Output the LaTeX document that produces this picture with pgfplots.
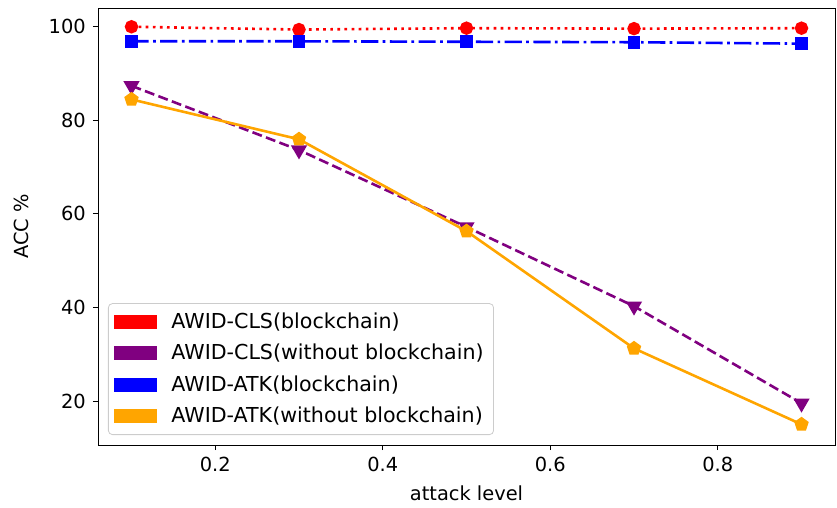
\documentclass[border=0pt]{standalone}
\usepackage{fontspec}
\setmainfont{DejaVu Sans}
\usepackage{pgfplots}
\pgfplotsset{compat=1.18}
\definecolor{mplorange}{rgb}{1,0.647,0}
\definecolor{mplpurple}{rgb}{0.5,0,0.5}
\begin{document}
\fontsize{10}{12}\selectfont
\begin{tikzpicture}
\begin{axis}[
  name=ax,
  scale only axis,
  width=368.5pt, height=218.5pt,
  xmin=0.06, xmax=0.94,
  ymin=10.7, ymax=103.9,
  xtick={0.2,0.4,0.6,0.8},
  ytick={20,40,60,80,100},
  xticklabels={0.2,0.4,0.6,0.8},
  tick align=outside,
  major tick length=2.6pt,
  xtick pos=bottom, ytick pos=left,
  tick style={black, line width=0.45pt},
  axis line style={line width=0.45pt},
  /pgf/number format/assume math mode=true,
  ticklabel style={font=\fontsize{9.7}{11}\selectfont},
  xlabel={attack level},
  ylabel={ACC \%},
  label style={font=\fontsize{9.7}{11}\selectfont},
  xlabel style={yshift=0pt},
  ylabel style={yshift=3pt},
  legend image code/.code={\fill[#1, draw=none, fill opacity=1, sharp corners] (0pt,-3.5pt) rectangle (21.5pt,3.5pt);},
  legend style={
    at={(0,0)}, xshift=5pt, yshift=5pt, anchor=south west,
    draw=black!20, rounded corners=2pt, fill=white, fill opacity=0.8, text opacity=1,
    font=\fontsize{10.3}{12}\selectfont,
    inner xsep=3pt, inner ysep=2.5pt,
    row sep=2.4pt,
    nodes={inner ysep=2pt},
    /tikz/every odd column/.append style={column sep=5pt},
  },
  legend cell align=left,
]
\addplot[color=red, line width=1.3pt, dash pattern=on 1.35pt off 2.2pt, mark=*, mark size=2.7pt, mark options={solid}]
  coordinates {(0.1,99.9) (0.3,99.3) (0.5,99.6) (0.7,99.5) (0.9,99.6)};
\addlegendentry{AWID-CLS(blockchain)}
\addplot[color=mplpurple, line width=1.3pt, dash pattern=on 5pt off 2.2pt, mark=triangle*, mark size=3.4pt, mark options={solid, rotate=180}]
  coordinates {(0.1,87.3) (0.3,73.6) (0.5,57.2) (0.7,40.3) (0.9,19.6)};
\addlegendentry{AWID-CLS(without blockchain)}
\addplot[color=blue, line width=1.3pt, dash pattern=on 8.6pt off 2.2pt on 1.35pt off 2.2pt, mark=square*, mark size=2.5pt, mark options={solid}]
  coordinates {(0.1,96.8) (0.3,96.8) (0.5,96.7) (0.7,96.6) (0.9,96.3)};
\addlegendentry{AWID-ATK(blockchain)}
\addplot[color=mplorange, line width=1.3pt, solid, mark=pentagon*, mark size=3pt]
  coordinates {(0.1,84.4) (0.3,75.9) (0.5,56.3) (0.7,31.3) (0.9,15.1)};
\addlegendentry{AWID-ATK(without blockchain)}
\end{axis}
\pgfresetboundingbox
\path[use as bounding box] ([xshift=-49pt,yshift=-31pt]ax.south west) rectangle ([xshift=1pt,yshift=4pt]ax.north east);
\end{tikzpicture}
\end{document}
